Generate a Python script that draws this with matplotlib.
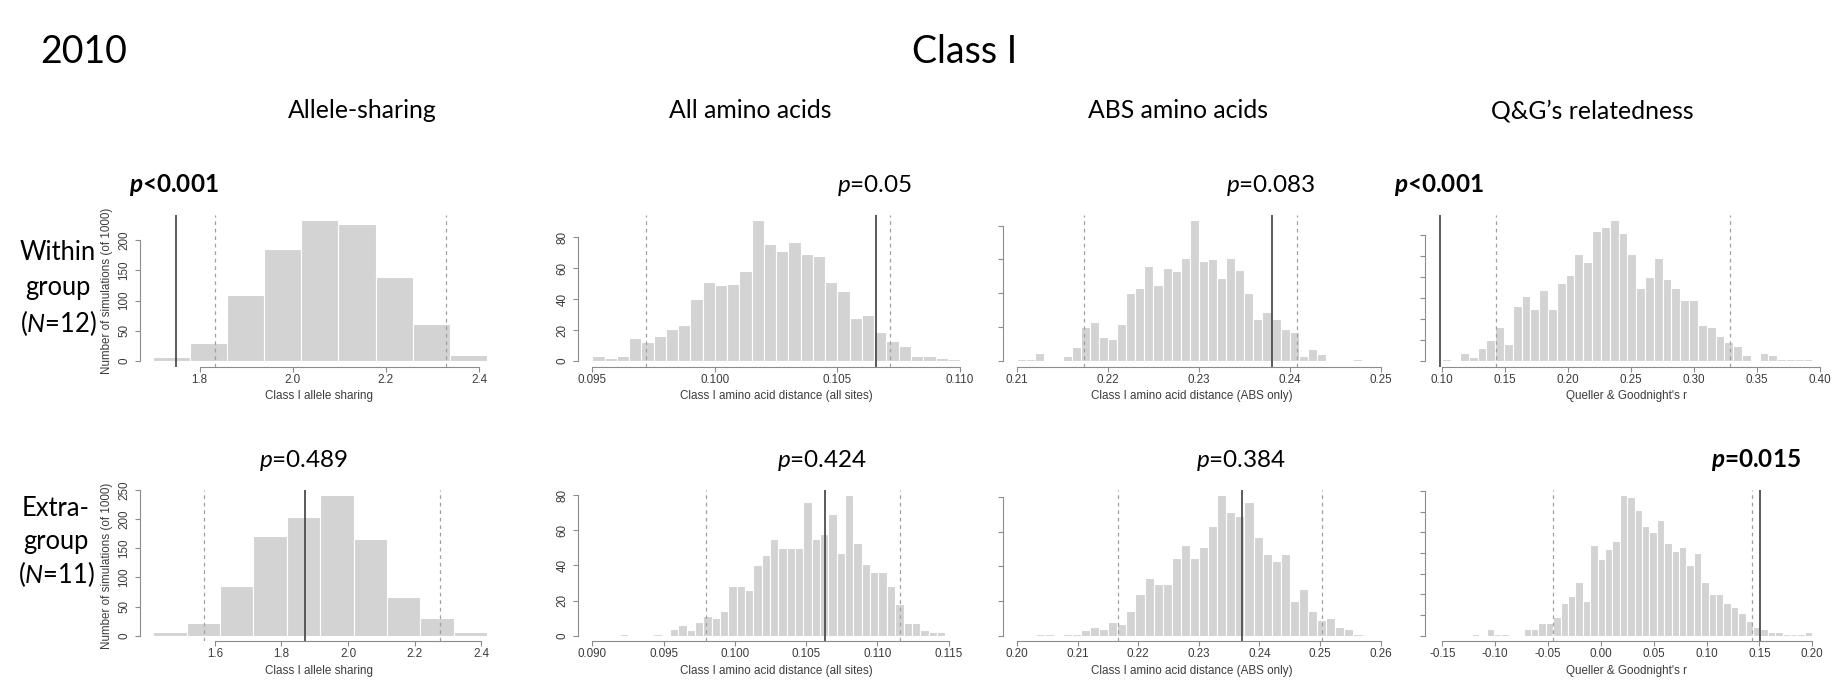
import numpy as np
import matplotlib
matplotlib.use("Agg")
import matplotlib.pyplot as plt

# ---------------- data: 1000 simulations per panel (bin counts) ----------------
# row 1: within group (N=12)
w_share_bins = (1.700, 2.417)
w_share_counts = [7, 29, 109, 185, 233, 227, 139, 62, 10]
w_share_obs, w_share_ci = 1.750, (1.833, 2.330)

w_all_bins = (0.0950, 0.1100)
w_all_counts = [3, 2, 3, 15, 12, 16, 21, 23, 40, 51, 49, 50, 58, 91, 76,
                71, 77, 69, 68, 51, 45, 28, 30, 19, 13, 10, 3, 3, 2, 1]
w_all_obs, w_all_ci = 0.10656, (0.0972, 0.10716)

w_abs_bins = (0.210, 0.248)
w_abs_counts = [1, 1, 5, 0, 0, 3, 8, 20, 23, 14, 13, 22, 40, 43, 56, 45, 55, 53, 61,
                83, 59, 60, 49, 61, 54, 40, 25, 29, 25, 19, 17, 3, 7, 4, 0, 0, 0, 1]
w_abs_obs, w_abs_ci = 0.2380, (0.2174, 0.2408)

w_qg_bins = (0.100, 0.394)
w_qg_counts = [1, 0, 4, 2, 6, 10, 16, 8, 26, 31, 25, 34, 25, 37, 41, 51, 47, 62, 64, 67, 61,
               51, 35, 40, 49, 39, 35, 29, 29, 17, 16, 12, 9, 7, 3, 0, 4, 3, 1, 1, 1, 1]
w_qg_obs, w_qg_ci = 0.0982, (0.1429, 0.3285)

# row 2: extra-group (N=11)
e_share_bins = (1.415, 2.417)
e_share_counts = [6, 22, 86, 171, 204, 241, 166, 66, 30, 6]
e_share_obs, e_share_ci = 1.871, (1.567, 2.276)

e_all_bins = (0.09194, 0.11476)
e_all_counts = [1, 0, 0, 0, 1, 0, 4, 6, 3, 8, 11, 10, 14, 28, 28, 26, 40, 46, 55, 50,
                50, 50, 76, 55, 58, 69, 47, 80, 53, 41, 36, 36, 28, 18, 7, 7, 3, 2, 2]
e_all_obs, e_all_ci = 0.10633, (0.0980, 0.1116)

e_abs_bins = (0.20304, 0.25704)
e_abs_counts = [1, 1, 0, 1, 1, 3, 5, 4, 8, 7, 14, 24, 33, 30, 30, 45, 52, 45, 51, 63,
                81, 71, 69, 77, 57, 47, 43, 47, 20, 27, 14, 9, 10, 5, 4, 1]
e_abs_obs, e_abs_ci = 0.2371, (0.2167, 0.2504)

e_qg_bins = (-0.1222, 0.2000)
e_qg_counts = [1, 0, 3, 1, 1, 0, 0, 3, 3, 6, 6, 9, 16, 19, 26, 17, 44, 37, 42, 46, 68, 67, 61,
               53, 50, 56, 45, 41, 43, 34, 40, 26, 20, 20, 16, 14, 11, 7, 4, 3, 2, 2, 1, 1, 1, 2]
e_qg_obs, e_qg_ci = 0.1505, (-0.0450, 0.1427)

# axis ticks
share_w_ticks = [1.8, 2.0, 2.2, 2.4]
share_e_ticks = [1.6, 1.8, 2.0, 2.2, 2.4]
all_w_ticks = [0.095, 0.100, 0.105, 0.110]
all_e_ticks = [0.090, 0.095, 0.100, 0.105, 0.110, 0.115]
abs_w_ticks = [0.21, 0.22, 0.23, 0.24, 0.25]
abs_e_ticks = [0.20, 0.21, 0.22, 0.23, 0.24, 0.25, 0.26]
qg_w_ticks = [0.10, 0.15, 0.20, 0.25, 0.30, 0.35, 0.40]
qg_e_ticks = [-0.15, -0.10, -0.05, 0.00, 0.05, 0.10, 0.15, 0.20]

col_titles = ["Allele-sharing", "All amino acids", "ABS amino acids", "Q&G\u2019s relatedness"]
x_labels = ["Class I allele sharing", "Class I amino acid distance (all sites)",
            "Class I amino acid distance (ABS only)", "Queller & Goodnight's r"]
p_top = ["p<0.001", "p=0.05", "p=0.083", "p<0.001"]
p_bottom = ["p=0.489", "p=0.424", "p=0.384", "p=0.015"]
p_top_bold = [True, False, False, True]
p_bottom_bold = [False, False, False, True]

# ---------------- layout ----------------
W, H = 1841, 697
plt.rcParams['font.family'] = ['Liberation Sans', 'DejaVu Sans']
plt.rcParams['mathtext.fontset'] = 'custom'
plt.rcParams['mathtext.rm'] = 'Lato'
plt.rcParams['mathtext.it'] = 'Lato:italic'
plt.rcParams['mathtext.bf'] = 'Lato:bold'
plt.rcParams['mathtext.bfit'] = 'Lato:italic:bold'

fig = plt.figure(figsize=(W / 100, H / 100), dpi=100)
fig.patch.set_facecolor('white')

col_x = [(139.7, 499.0), (577.5, 975.0), (1003.0, 1380.5), (1425.0, 1827.0)]
row_y = [(214.8, 366.6), (489.5, 641.3)]

BIG = 'Lato'


def ftext(x, y, s, **kw):
    fig.text(x / W, 1 - y / H, s, **kw)


def panel(row, col, bins, counts, obs, ci, xticks, fmt, yticks, xlim):
    x0, x1 = col_x[col]
    y0, y1 = row_y[row]
    ax = fig.add_axes([x0 / W, 1 - y1 / H, (x1 - x0) / W, (y1 - y0) / H])
    edges = np.linspace(bins[0], bins[1], len(counts) + 1)
    ax.bar(edges[:-1], counts, width=np.diff(edges), align='edge',
           color='#d3d3d3', edgecolor='white', linewidth=0.8)
    m = max(counts)
    ax.set_ylim(-0.04 * m, 1.04 * m)
    ax.set_xlim(*xlim)
    ax.axvline(obs, color='#4d4d4d', lw=1.3)
    for v in ci:
        ax.axvline(v, color='#a0a0a0', lw=0.9, ls=(0, (3, 3)))
    for s in ('top', 'right'):
        ax.spines[s].set_visible(False)
    for s in ('left', 'bottom'):
        ax.spines[s].set_color('#8c8c8c')
        ax.spines[s].set_linewidth(0.8)
    ax.spines['bottom'].set_bounds(xticks[0], xticks[-1])
    ax.spines['left'].set_bounds(yticks[0], yticks[-1])
    ax.set_xticks(xticks)
    ax.set_xticklabels([fmt % t for t in xticks])
    ax.set_yticks(yticks)
    if col < 2:
        ax.set_yticklabels([str(t) for t in yticks], rotation=90, va='center')
    else:
        ax.set_yticklabels([])
    ax.tick_params(length=3.6, width=0.8, color='#8c8c8c', labelcolor='#3c3c3c', labelsize=8.4)
    ax.tick_params(axis='x', pad=1.5)
    ax.tick_params(axis='y', pad=3)
    ax.set_xlabel(x_labels[col], fontsize=8.4, color='#3c3c3c', labelpad=3)
    if col == 0:
        ax.set_ylabel("Number of simulations (of 1000)", fontsize=8.4, color='#3c3c3c', labelpad=3.7)
    ax.patch.set_alpha(0)
    return ax


panel(0, 0, w_share_bins, w_share_counts, w_share_obs, w_share_ci, share_w_ticks, '%.1f',
      [0, 50, 100, 150, 200], (1.6716, 2.443))
panel(0, 1, w_all_bins, w_all_counts, w_all_obs, w_all_ci, all_w_ticks, '%.3f',
      [0, 20, 40, 60, 80], (0.094396, 0.11061))
panel(0, 2, w_abs_bins, w_abs_counts, w_abs_obs, w_abs_ci, abs_w_ticks, '%.2f',
      [0, 20, 40, 60, 80], (0.20844, 0.24951))
panel(0, 3, w_qg_bins, w_qg_counts, w_qg_obs, w_qg_ci, qg_w_ticks, '%.2f',
      [0, 10, 20, 30, 40, 50, 60], (0.08626, 0.40556))

panel(1, 0, e_share_bins, e_share_counts, e_share_obs, e_share_ci, share_e_ticks, '%.1f',
      [0, 50, 100, 150, 200, 250], (1.3747, 2.4527))
panel(1, 1, e_all_bins, e_all_counts, e_all_obs, e_all_ci, all_e_ticks, '%.3f',
      [0, 20, 40, 60, 80], (0.088962, 0.11685))
panel(1, 2, e_abs_bins, e_abs_counts, e_abs_obs, e_abs_ci, abs_e_ticks, '%.2f',
      [0, 20, 40, 60, 80], (0.19767, 0.25915))
panel(1, 3, e_qg_bins, e_qg_counts, e_qg_obs, e_qg_ci, qg_e_ticks, '%.2f',
      [0, 10, 20, 30, 40, 50, 60, 70], (-0.16637, 0.21392))

# ---------------- headings ----------------
ftext(40, 63, "2010", family=BIG, fontsize=27, va='baseline', ha='left')
ftext(965, 63, "Class I", family=BIG, fontsize=27, va='baseline', ha='center')
for x, t in zip([362, 750, 1178, 1592], col_titles):
    ftext(x, 118, t, family=BIG, fontsize=17.8, va='baseline', ha='center')


def ptext(x, y, s, bold):
    if bold:
        s = r'$\mathbfit{p}$' + s[1:]
        ftext(x, y, s, family=BIG, fontsize=17.5, fontweight='bold', va='baseline', ha='center')
    else:
        s = r'$\mathit{p}$' + s[1:]
        ftext(x, y, s, family=BIG, fontsize=17.5, va='baseline', ha='center')


for x, s, b in zip([174, 875, 1271, 1439], p_top, p_top_bold):
    ptext(x, 192, s, b)
for x, s, b in zip([304, 822, 1241, 1756], p_bottom, p_bottom_bold):
    ptext(x, 467, s, b)

# row labels
for y, s in zip([260, 295, 332], ["Within", "group", r"($\mathit{N}$=12)"]):
    ftext(58, y, s, family=BIG, fontsize=18.4, va='baseline', ha='center')
for y, s in zip([516, 549, 583], ["Extra-", "group", r"($\mathit{N}$=11)"]):
    ftext(56, y, s, family=BIG, fontsize=18.4, va='baseline', ha='center')

fig.savefig("out.png", dpi=100, facecolor='white')
